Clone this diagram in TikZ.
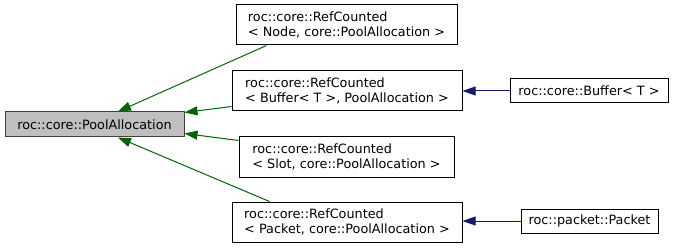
\documentclass[tikz,border=0pt]{standalone}
\usepackage{fontspec}
\setmainfont{DejaVu Sans}
\usetikzlibrary{arrows.meta}
\definecolor{edgegreen}{HTML}{006400}
\definecolor{edgeblue}{HTML}{191970}
\definecolor{rootfill}{HTML}{BFBFBF}
\definecolor{rootdraw}{HTML}{404040}
\tikzset{
  classbox/.style={draw=black, fill=white, line width=1pt, align=left,
    inner sep=0pt, font=\fontsize{12.8}{15}\selectfont},
  rootbox/.style={classbox, draw=rootdraw, fill=rootfill},
  inherit/.style={draw=edgegreen, line width=1pt,
    -{Triangle[length=13pt, width=9pt]}},
  derive/.style={draw=edgeblue, line width=1pt,
    -{Triangle[length=13pt, width=9pt]}}
}
\begin{document}
\begin{tikzpicture}[x=1pt, y=-1pt]
  \useasboundingbox (0,0) rectangle (679,248);

  % base class
  \node[rootbox, minimum width=179pt, minimum height=25pt] (root) at (94.5,124.5)
    {roc::core::PoolAllocation};

  % RefCounted instantiations
  \node[classbox, minimum width=221pt, minimum height=40pt] (rcnode) at (346.5,25)
    {roc::core::RefCounted\\< Node, core::PoolAllocation >};
  \node[classbox, minimum width=230pt, minimum height=40pt] (rcbuffer) at (347,91)
    {roc::core::RefCounted\\< Buffer< T >, PoolAllocation >};
  \node[classbox, minimum width=215pt, minimum height=40pt] (rcslot) at (346.5,157)
    {roc::core::RefCounted\\< Slot, core::PoolAllocation >};
  \node[classbox, minimum width=230pt, minimum height=40pt] (rcpacket) at (347,222)
    {roc::core::RefCounted\\< Packet, core::PoolAllocation >};

  % derived classes
  \node[classbox, minimum width=158pt, minimum height=24pt] (buffer) at (589,91)
    {roc::core::Buffer< T >};
  \node[classbox, minimum width=137pt, minimum height=24pt] (packet) at (589.5,221)
    {roc::packet::Packet};

  % inheritance from PoolAllocation
  \draw[inherit] ([xshift=31pt]rcnode.south west) -- ([xshift=23.5pt]root.north);
  \draw[inherit] ([yshift=5pt]rcbuffer.south west) -- ([yshift=-1pt]root.north east);
  \draw[inherit] ([yshift=-4pt]rcslot.north west) -- ([yshift=4pt]root.south east);
  \draw[inherit] ([xshift=38pt]rcpacket.north west) -- ([xshift=23.5pt]root.south);

  % inheritance from RefCounted
  \draw[derive] (buffer.west) -- (rcbuffer.east);
  \draw[derive] (packet.west) -- (packet.west -| rcpacket.east);
\end{tikzpicture}
\end{document}
